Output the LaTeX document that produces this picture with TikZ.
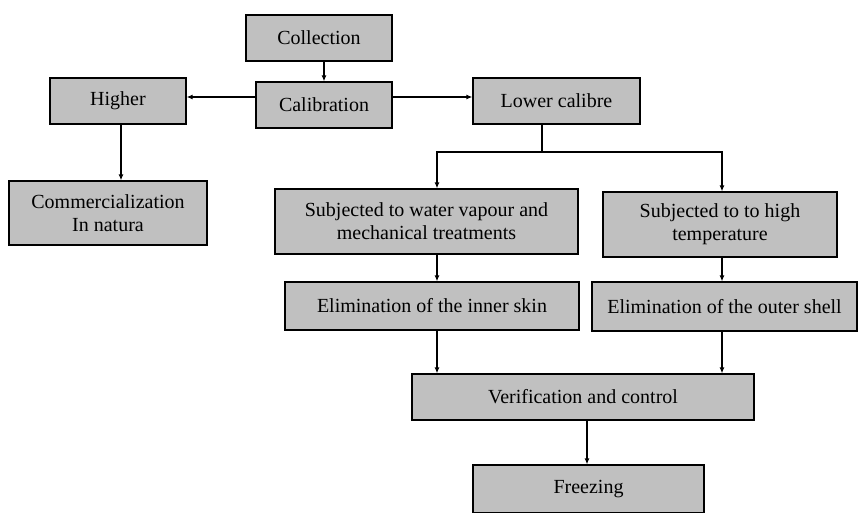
\documentclass[tikz,border=0pt]{standalone}
\usepackage{fontspec}
\setmainfont{Liberation Serif}
\usetikzlibrary{arrows.meta}
\definecolor{boxgray}{HTML}{C0C0C0}
\tikzset{
  box/.style={draw=black, line width=1.2pt, fill=boxgray, inner sep=0pt, align=center,
    font=\fontsize{20}{23}\selectfont, text=black},
  arr/.style={line width=1.5pt, -{Latex[length=6pt,width=5pt]}},
  ln/.style={line width=1.5pt}
}
\begin{document}
\begin{tikzpicture}[x=1pt,y=-1pt]
\useasboundingbox (0,0) rectangle (858,512);
\node[box, minimum width=146pt, minimum height=46pt] (coll) at (319,38) {Collection};
\node[box, minimum width=136pt, minimum height=46pt] (calib) at (324,105) {Calibration};
\node[box, minimum width=136pt, minimum height=46pt] (higher) at (118,101) {Higher};
\node[box, minimum width=198pt, minimum height=64pt] (comm) at (108,213) {Commercialization\\In natura};
\node[box, minimum width=167pt, minimum height=46pt] (lower) at (556.5,101) {Lower calibre};
\node[box, minimum width=303pt, minimum height=65pt] (water) at (426.5,221.5) {Subjected to water vapour and\\mechanical treatments};
\node[box, minimum width=234pt, minimum height=65pt] (hot) at (720,224.5) {Subjected to to high\\temperature};
\node[box, minimum width=294pt, minimum height=48pt] (inner) at (432,306) {Elimination of the inner skin};
\node[box, minimum width=265pt, minimum height=49pt] (outer) at (724.5,306.5) {Elimination of the outer shell};
\node[box, minimum width=342pt, minimum height=46pt] (verif) at (583,397) {Verification and control};
\node[box, minimum width=231pt, minimum height=48pt] (freez) at (588.5,489) {Freezing};
\coordinate (split) at (542,152);
\draw[arr] (coll.south -| calib.north) -- (calib.north);
\draw[arr] (calib.west |- 0,97) -- (higher.east |- 0,97);
\draw[arr] (calib.east |- 0,97) -- (lower.west |- 0,97);
\draw[arr] (higher.south -| 121,0) -- (comm.north -| 121,0);
\draw[ln] (lower.south -| split) -- (split);
\draw[arr] (split) -| (water.north -| 437,0);
\draw[arr] (split) -| (hot.north -| 722,0);
\draw[arr] (water.south -| 437,0) -- (inner.north -| 437,0);
\draw[arr] (hot.south -| 722,0) -- (outer.north -| 722,0);
\draw[arr] (inner.south -| 437,0) -- (verif.north -| 437,0);
\draw[arr] (outer.south -| 722,0) -- (verif.north -| 722,0);
\draw[arr] (verif.south -| 587,0) -- (freez.north -| 587,0);
\end{tikzpicture}
\end{document}
